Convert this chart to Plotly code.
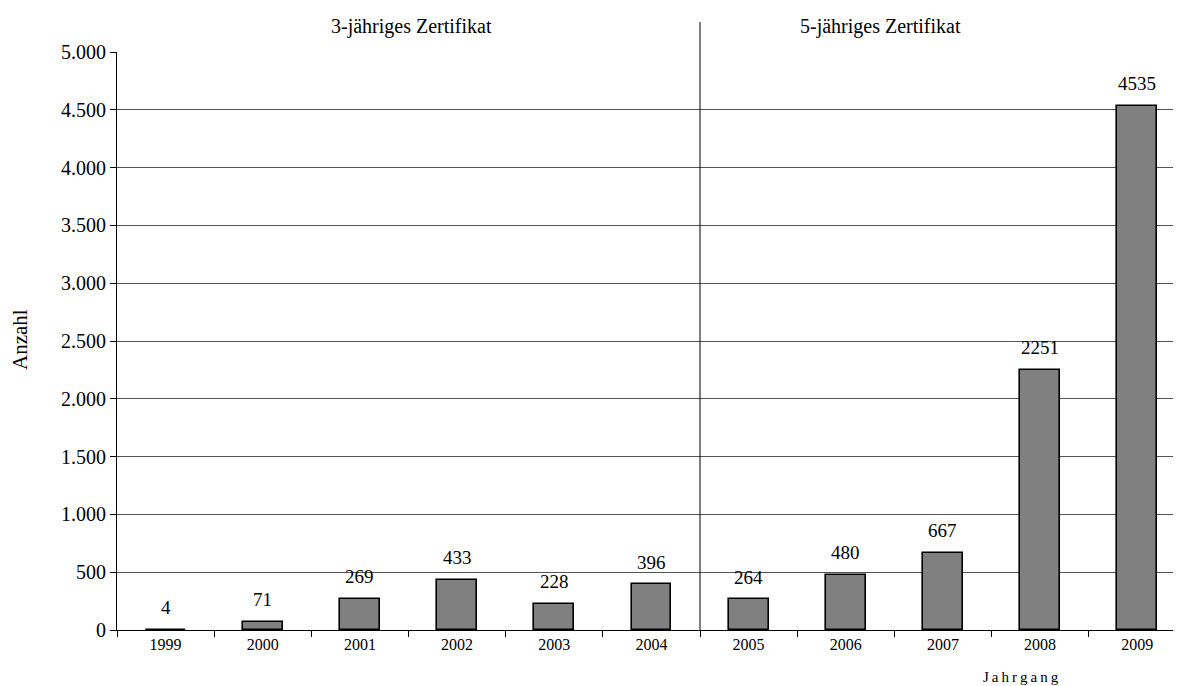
import plotly.graph_objects as go

years = ["1999", "2000", "2001", "2002", "2003", "2004", "2005", "2006", "2007", "2008", "2009"]
counts = [4, 71, 269, 433, 228, 396, 264, 480, 667, 2251, 4535]
section_titles = ["3-jähriges Zertifikat", "5-jähriges Zertifikat"]
y_ticks = [0, 500, 1000, 1500, 2000, 2500, 3000, 3500, 4000, 4500, 5000]

FONT = "Liberation Serif, Times New Roman, serif"
# page body has an 8px default margin: figure origin sits at (8, 8)
OFF = 8
W, H = 1181 - OFF, 686 - OFF
L, R, T, B = 117 - OFF, 0, 52 - OFF, 56
PW, PH = W - L - R, H - T - B


def px(xs):
    return (xs - 117) / PW


def py(ys):
    return (630 - ys) / PH


fig = go.Figure()
fig.add_trace(go.Bar(
    x=years, y=counts, width=0.41,
    marker=dict(color="#808080", line=dict(color="black", width=1.6)),
    hoverinfo="x+y",
))

fig.update_layout(
    width=W, height=H,
    margin=dict(l=L, r=R, t=T, b=B, autoexpand=False),
    paper_bgcolor="white", plot_bgcolor="white",
    separators=",.",
    showlegend=False,
    bargap=0,
    font=dict(family=FONT, color="black"),
)
fig.update_xaxes(
    type="category", range=[-0.5, 10.45], automargin=False,
    showline=True, linecolor="black", linewidth=1,
    ticks="outside", tickson="boundaries", ticklen=6, tickcolor="black",
    tickfont=dict(family=FONT, size=16, color="black"),
    showgrid=False, zeroline=False,
)
fig.update_yaxes(
    range=[0, 5000], tickvals=y_ticks, tickformat=",d", automargin=False,
    showline=True, linecolor="black", linewidth=1,
    ticks="outside", ticklen=6, tickcolor="black",
    tickfont=dict(family=FONT, size=20, color="black"),
    showgrid=True, gridcolor="#555555", gridwidth=1, zeroline=False,
)

# value labels above bars
for i, v in enumerate(counts):
    fig.add_annotation(x=i, xref="x", y=v, yref="y", text=str(v), showarrow=False, yshift=22,
                       xanchor="center", yanchor="middle",
                       font=dict(family=FONT, size=19, color="black"))

# separator between the two certificate periods
fig.add_shape(type="line", xref="x", yref="paper", x0=5.5, x1=5.5, y0=0, y1=py(22),
              line=dict(color="black", width=1))

fig.add_annotation(x=px(411), xref="paper", y=py(27), yref="paper",
                   text=section_titles[0], showarrow=False, xanchor="center", yanchor="middle",
                   font=dict(family=FONT, size=20, color="black"))
fig.add_annotation(x=px(880), xref="paper", y=py(27), yref="paper",
                   text=section_titles[1], showarrow=False, xanchor="center", yanchor="middle",
                   font=dict(family=FONT, size=20, color="black"))
fig.add_annotation(x=px(20), xref="paper", y=py(340), yref="paper",
                   text="Anzahl", textangle=-90, showarrow=False, xanchor="center", yanchor="middle",
                   font=dict(family=FONT, size=21, color="black"))
fig.add_annotation(x=px(1021), xref="paper", y=py(677), yref="paper",
                   text="J\u2009a\u2009h\u2009r\u2009g\u2009a\u2009n\u2009g", showarrow=False,
                   xanchor="center", yanchor="middle", font=dict(family=FONT, size=15, color="black"))

fig.write_html("out.html")
